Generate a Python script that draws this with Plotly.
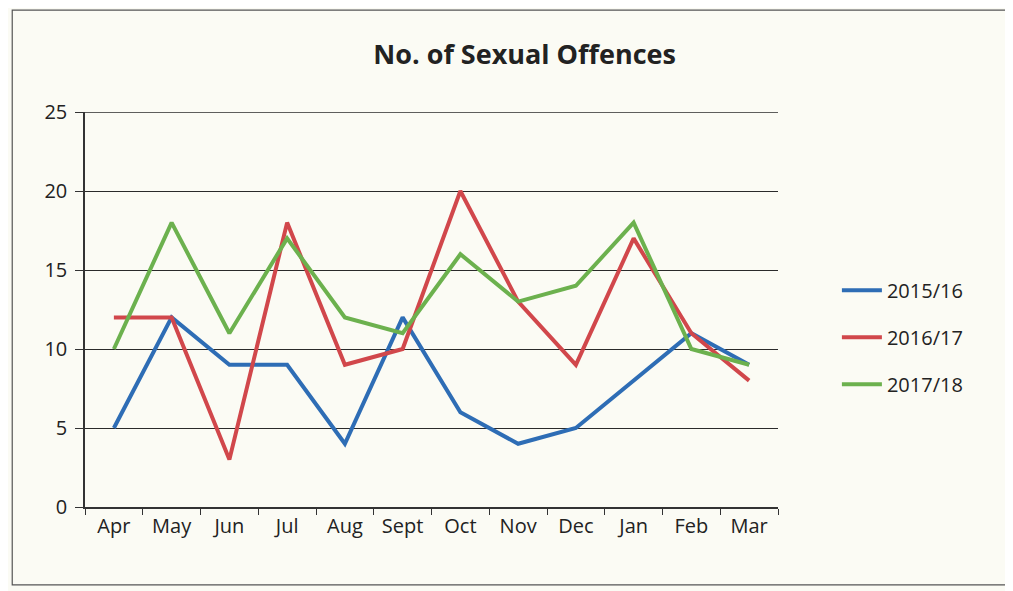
import plotly.graph_objects as go

months = ["Apr", "May", "Jun", "Jul", "Aug", "Sept", "Oct", "Nov", "Dec", "Jan", "Feb", "Mar"]
s2015 = [5, 12, 9, 9, 4, 12, 6, 4, 5, 8, 11, 9]
s2016 = [12, 12, 3, 18, 9, 10, 20, 13, 9, 17, 11, 8]
s2017 = [10, 18, 11, 17, 12, 11, 16, 13, 14, 18, 10, 9]
series = [("2015/16", s2015, "#2e6db5"), ("2016/17", s2016, "#d1474b"), ("2017/18", s2017, "#6cb14e")]

fig = go.Figure()
for i, (name, vals, col) in enumerate(series):
    fig.add_trace(go.Scatter(x=months, y=vals, name=name, mode="lines",
                             line=dict(color=col, width=4), legendgroup=name))

font = "Open Sans, Noto Sans, sans-serif"
fig.update_layout(
    width=1013, height=591,
    margin=dict(l=77, r=243, t=104, b=92),
    paper_bgcolor="#fbfbf4", plot_bgcolor="#fbfbf4",
    title=dict(text="<b>No. of Sexual Offences</b>", x=0.51, xanchor="center", y=0.922, yanchor="middle",
               font=dict(family=font, size=27, color="#222222")),
    font=dict(family=font, size=20, color="#222222"),
    showlegend=True,
    legend=dict(x=1.085, xanchor="left", y=0.43, yanchor="middle", bgcolor="rgba(0,0,0,0)",
                font=dict(size=20, color="#222222"), tracegroupgap=18, itemwidth=40),
    xaxis=dict(showgrid=False, showline=True, linecolor="#333333", linewidth=1.5,
               ticks="outside", ticklen=6, tickcolor="#333333", tickson="boundaries",
               range=[-0.5, 11.5], fixedrange=True),
    yaxis=dict(range=[0, 25], dtick=5, showgrid=True, gridcolor="#2a2a2a", gridwidth=1.4,
               showline=True, linecolor="#333333", linewidth=1.5, zeroline=False,
               ticks="outside", ticklen=8, tickcolor="#333333", ticklabelstandoff=4),
)
fig.add_shape(type="line", xref="paper", yref="y", x0=0, x1=1, y0=25, y1=25,
              line=dict(color="#2a2a2a", width=1.4), layer="below")
fig.add_shape(type="rect", xref="paper", yref="paper", x0=-0.105, x1=1.335, y0=-0.197, y1=1.258,
              line=dict(color="#555555", width=1.2))
fig.write_html("out.html")
